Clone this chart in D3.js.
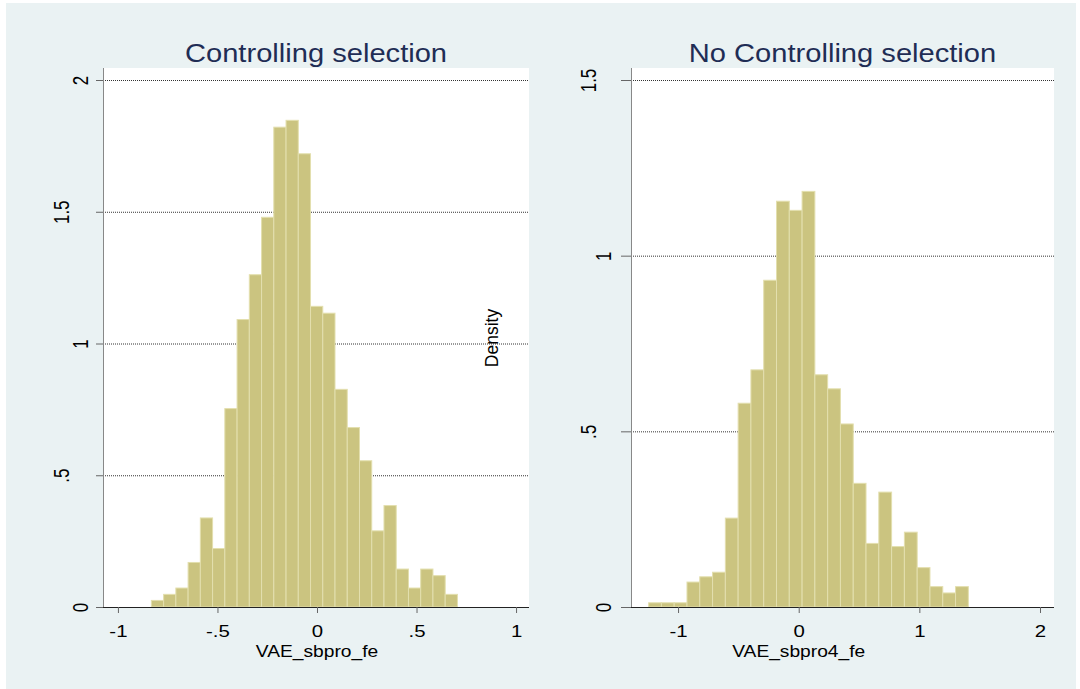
<!DOCTYPE html>
<html>
<head>
<meta charset="utf-8">
<script src="https://cdn.jsdelivr.net/npm/d3@7"></script>
<style>
  body { margin: 0; background: #fff; }
  svg { display: block; }
  text { font-family: "Liberation Sans", Arial, sans-serif; }
</style>
</head>
<body>
<div id="container"></div>
<script>
const width = 1080;
const height = 689;

// left panel: Controlling selection
const leftStart = -0.832;
const leftBinWidth = 0.0615;
const leftDensity = [0.025, 0.048, 0.072, 0.169, 0.338, 0.222, 0.753, 1.091, 1.261, 1.479,
  1.821, 1.847, 1.720, 1.141, 1.115, 0.826, 0.681, 0.555, 0.289, 0.385,
  0.144, 0.072, 0.144, 0.119, 0.048];
const leftXTicks = [-1, -0.5, 0, 0.5, 1];
const leftYTicks = [0, 0.5, 1, 1.5, 2];

// right panel: No Controlling selection
const rightStart = -1.244;
const rightBinWidth = 0.106;
const rightDensity = [0.012, 0.012, 0.012, 0.071, 0.086, 0.099, 0.253, 0.580, 0.675, 0.930,
  1.155, 1.129, 1.183, 0.661, 0.621, 0.521, 0.352, 0.181, 0.327, 0.172,
  0.213, 0.112, 0.058, 0.040, 0.058];
const rightXTicks = [-1, 0, 1, 2];
const rightYTicks = [0, 0.5, 1, 1.5];

const fmt = v => v === 0 ? "0" : String(v).replace(/^(-?)0\./, "$1.");

const svg = d3.select("#container").append("svg")
  .attr("width", width).attr("height", height);

svg.append("rect")
  .attr("x", 6).attr("y", 3)
  .attr("width", 1070).attr("height", 686)
  .attr("fill", "#eaf2f3");

const panel = (opt) => {
  const x = d3.scaleLinear().domain(opt.xDomain).range([opt.left, opt.right]);
  const y = d3.scaleLinear().domain(opt.yDomain).range([607, 80]);
  const top = 68;

  svg.append("rect")
    .attr("x", opt.left).attr("y", top)
    .attr("width", opt.right - opt.left).attr("height", 607 - top)
    .attr("fill", "#fff");

  // grid
  svg.append("g")
    .selectAll("line")
    .data(opt.yTicks.filter(d => d > 0))
    .join("line")
    .attr("x1", opt.left).attr("x2", opt.right)
    .attr("y1", d => y(d) + 0.5).attr("y2", d => y(d) + 0.5)
    .attr("stroke", "#333")
    .attr("stroke-width", 1)
    .attr("stroke-dasharray", "1,1");

  const bins = opt.data.map((d, i) => ({
    x0: opt.start + i * opt.bin,
    x1: opt.start + (i + 1) * opt.bin,
    v: d
  }));

  svg.append("g")
    .selectAll("rect")
    .data(bins)
    .join("rect")
    .attr("x", d => x(d.x0))
    .attr("y", d => y(d.v))
    .attr("width", d => x(d.x1) - x(d.x0))
    .attr("height", d => y(0) - y(d.v))
    .attr("fill", "#cbc480")
    .attr("stroke", "#e3dfae")
    .attr("stroke-width", 1);

  // axes
  const xAxis = svg.append("g")
    .attr("transform", `translate(0,${y(0)})`)
    .call(d3.axisBottom(x).tickValues(opt.xTicks).tickFormat(fmt).tickSize(6).tickPadding(0).tickSizeOuter(0));
  xAxis.select(".domain").attr("stroke", "#222").attr("d", `M${opt.left},0.5H${opt.right}`);
  xAxis.selectAll(".tick line").attr("stroke", "#666");
  xAxis.selectAll("text")
    .attr("font-size", 17).attr("fill", "#000")
    .attr("font-family", "Liberation Sans, Arial, sans-serif")
    .attr("y", null).attr("dy", null)
    .attr("transform", "translate(0,30) scale(1.2,1)");

  const yAxis = svg.append("g")
    .attr("transform", `translate(${opt.left},0)`)
    .call(d3.axisLeft(y).tickValues(opt.yTicks).tickFormat(fmt).tickSize(opt.tick).tickSizeOuter(0));
  yAxis.select(".domain").attr("stroke", "#888").attr("d", `M0.5,${top}V${y(0)}`);
  yAxis.selectAll(".tick line").attr("stroke", "#666");
  yAxis.selectAll("text")
    .attr("font-size", 17).attr("fill", "#000")
    .attr("font-family", "Liberation Sans, Arial, sans-serif")
    .attr("text-anchor", "middle")
    .attr("x", null).attr("dy", null)
    .attr("transform", d => {
      // labels with a decimal point sit further left, as in the source
      const off = Number.isInteger(d) ? opt.intOff : opt.decOff;
      return `translate(${-off},0) scale(1.3,1) rotate(-90)`;
    });

  svg.append("text")
    .attr("transform", `translate(${(opt.left + opt.right) / 2},62) scale(1.165,1)`)
    .attr("text-anchor", "middle")
    .attr("font-size", 25)
    .attr("fill", "#1f2d55")
    .text(opt.title);

  svg.append("text")
    .attr("transform", `translate(${x(0)},657) scale(1.2,1)`)
    .attr("text-anchor", "middle")
    .attr("font-size", 16)
    .attr("fill", "#000")
    .text(opt.xLabel);
};

panel({
  left: 103, right: 529,
  xDomain: [-1.075, 1.065], yDomain: [0, 2],
  start: leftStart, bin: leftBinWidth, data: leftDensity,
  xTicks: leftXTicks, yTicks: leftYTicks,
  tick: 7, intOff: 15, decOff: 34,
  title: "Controlling selection", xLabel: "VAE_sbpro_fe"
});

panel({
  left: 631, right: 1054,
  xDomain: [-1.39, 2.116], yDomain: [0, 1.5],
  start: rightStart, bin: rightBinWidth, data: rightDensity,
  xTicks: rightXTicks, yTicks: rightYTicks,
  tick: 10, intOff: 20, decOff: 35,
  title: "No Controlling selection", xLabel: "VAE_sbpro4_fe"
});

svg.append("text")
  .attr("transform", "translate(498,338) rotate(-90)")
  .attr("text-anchor", "middle")
  .attr("font-size", 17.5)
  .attr("fill", "#000")
  .text("Density");
</script>
</body>
</html>
